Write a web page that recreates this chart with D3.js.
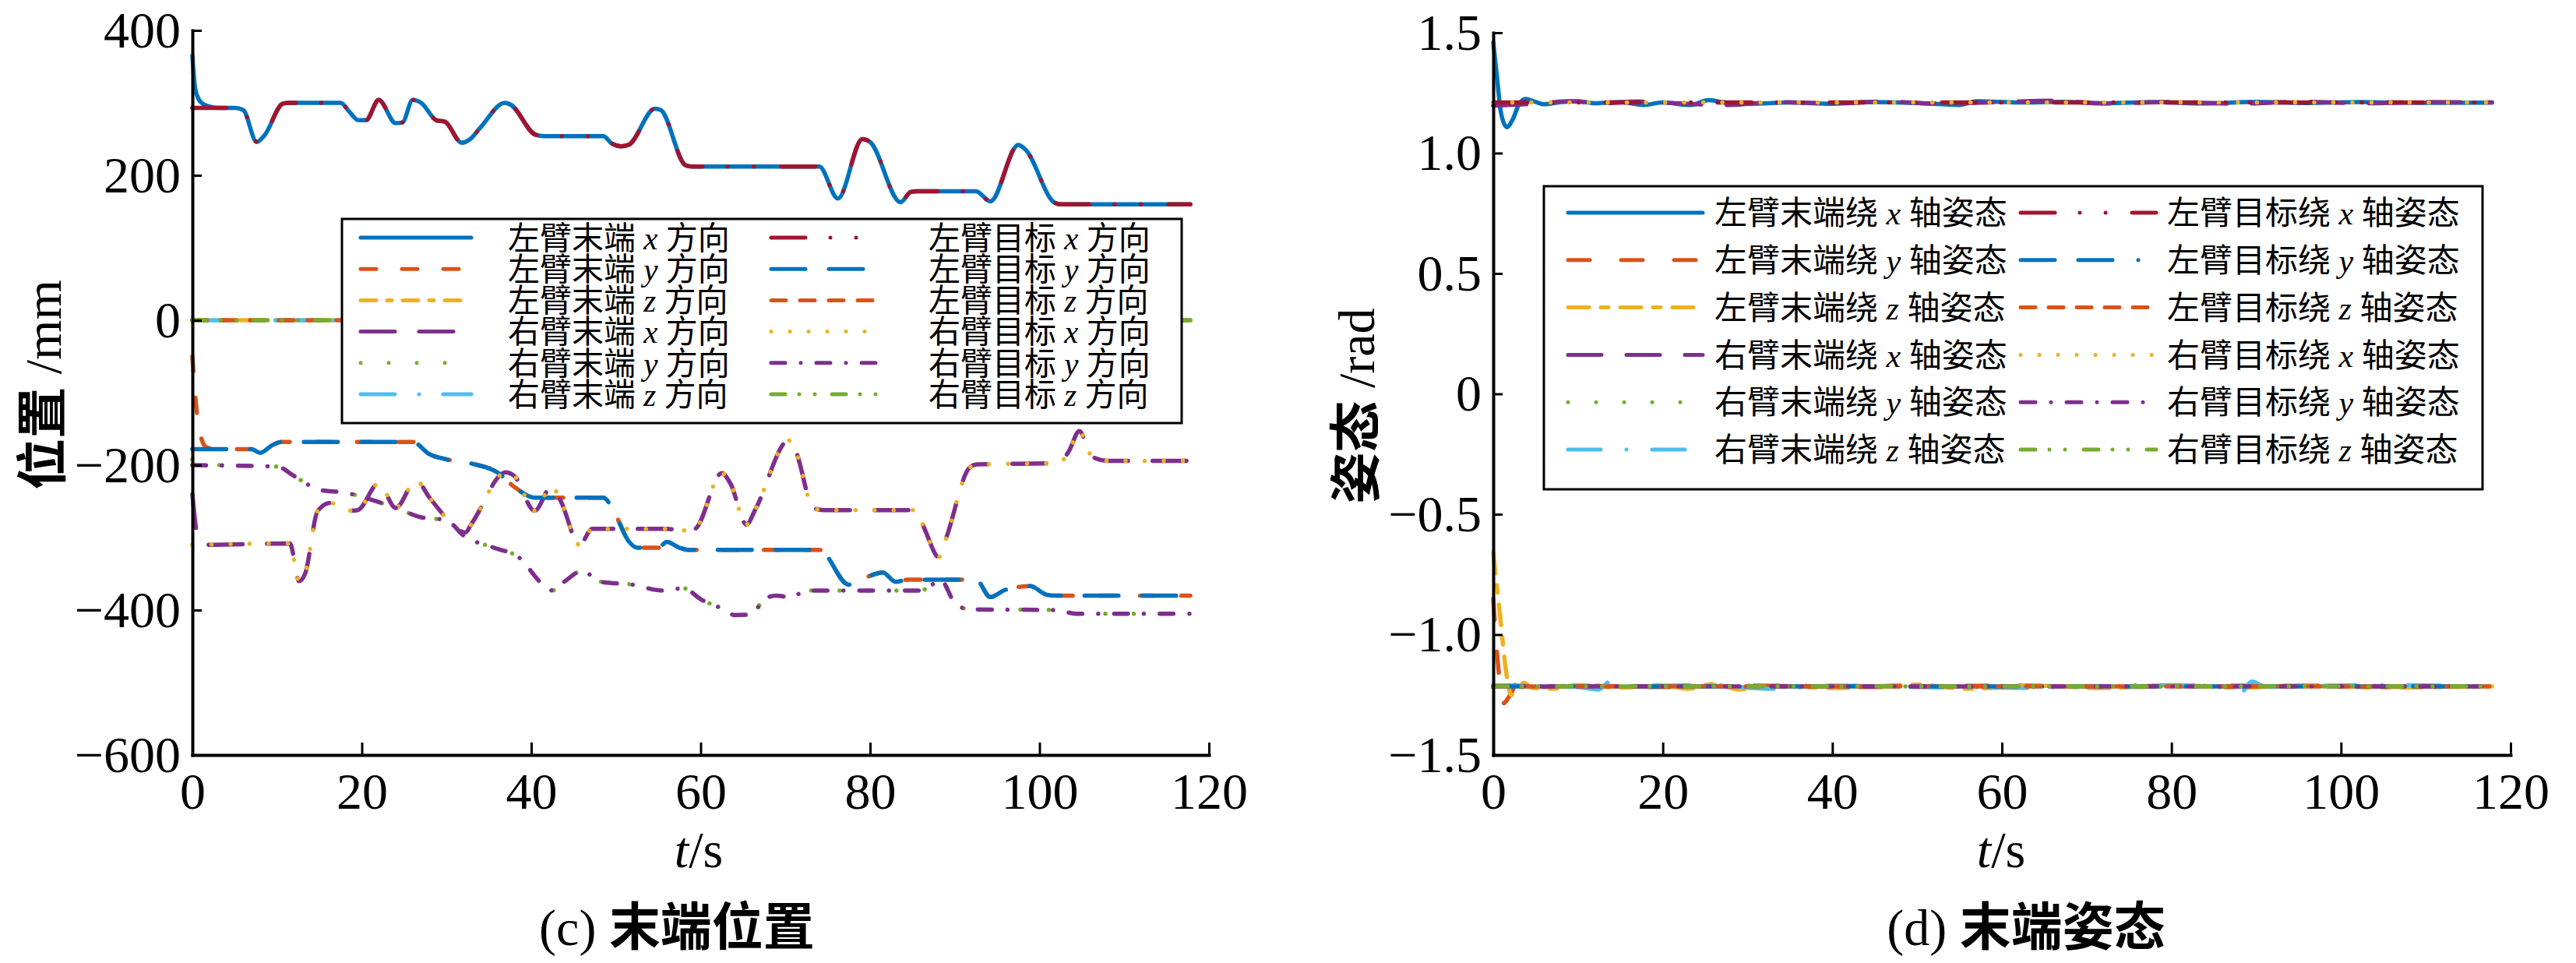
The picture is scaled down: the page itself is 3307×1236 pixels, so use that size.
<!DOCTYPE html>
<html>
<head>
<meta charset="utf-8">
<script src="https://cdn.jsdelivr.net/npm/d3@7"></script>
<style>
  body { margin: 0; background: #fff; }
  text { fill: #000; }
</style>
</head>
<body>
<div id="fig"></div>
<script>
const W = 3307, H = 1236
const SERIF = "'Liberation Serif', 'Times New Roman', Tinos, 'DejaVu Serif', serif"
const CJK = "'Noto Sans CJK SC', 'Noto Sans CJK JP', sans-serif"

// tick values
const timeTicks = [0, 20, 40, 60, 80, 100, 120]
const posTicks = [-600, -400, -200, 0, 200, 400]
const attTicks = [-1.5, -1.0, -0.5, 0, 0.5, 1.0, 1.5]

// legend texts: [prefix, axis letter, suffix]
const posLegend = [
  ["左臂末端", "x", "方向"], ["左臂末端", "y", "方向"], ["左臂末端", "z", "方向"],
  ["右臂末端", "x", "方向"], ["右臂末端", "y", "方向"], ["右臂末端", "z", "方向"],
  ["左臂目标", "x", "方向"], ["左臂目标", "y", "方向"], ["左臂目标", "z", "方向"],
  ["右臂目标", "x", "方向"], ["右臂目标", "y", "方向"], ["右臂目标", "z", "方向"]
]
const attLegend = [
  ["左臂末端绕", "x", "轴姿态"], ["左臂末端绕", "y", "轴姿态"], ["左臂末端绕", "z", "轴姿态"],
  ["右臂末端绕", "x", "轴姿态"], ["右臂末端绕", "y", "轴姿态"], ["右臂末端绕", "z", "轴姿态"],
  ["左臂目标绕", "x", "轴姿态"], ["左臂目标绕", "y", "轴姿态"], ["左臂目标绕", "z", "轴姿态"],
  ["右臂目标绕", "x", "轴姿态"], ["右臂目标绕", "y", "轴姿态"], ["右臂目标绕", "z", "轴姿态"]
]

// (c) end position, [t (s), mm]
const posLXTarget = [[0,293],[5,293],[6,290],[7.6,246],[8.5,255],[10.7,299],[11.5,300],[17.5,300],[18.5,288],
  [19.6,276],[20.5,276],[22,304],[24,272],[24.8,273],[26,304],[27,300],[28.8,276],[29.8,274],[31.8,245],
  [32.8,250],[34,266],[36.9,300],[37.5,298],[40.5,256],[41.5,254],[48.5,254],[49.5,244],[50.6,240],
  [51.5,242],[54.6,292],[55.3,290],[58.2,214],[59,212],[74,212],[76.2,168],[79.1,250],[80,246],
  [83.6,163],[84.8,177],[85.5,178],[92.5,178],[94.2,164],[97.5,242],[98.3,236],[101.8,162],[102.5,160],[117.8,160]]
const posLXStart = [[0,365],[0.3,322],[0.7,306],[1.2,299],[2,295],[3,293]]

const posLYTarget = [[0,-178],[7,-178],[8,-183],[9.5,-172],[10.5,-168],[26,-168],[28,-185],[30,-192],[33,-198],
  [36,-210],[38,-230],[40.4,-245],[48.5,-245],[50,-270],[51.5,-305],[52.5,-314],[55,-314],[56,-306],
  [57.5,-314],[58.5,-317],[74,-317],[77.5,-365],[79.5,-355],[81.5,-348],[83,-361],[84.5,-358],[92.5,-358],
  [94.2,-382],[96,-372],[98.9,-367],[100.9,-379],[102,-380],[117.8,-380]]
const posLYStart = [[0,-50],[0.5,-125],[1,-160],[1.6,-175],[2.5,-178]]

const posRXTarget = [[0,-310],[11.5,-308],[12.6,-360],[13.3,-350],[14.8,-263],[16.3,-252],[18.2,-263],
  [19.5,-262],[22,-225],[24,-259],[26.4,-221],[28,-245],[29.9,-272],[31,-285],[32.2,-293],[33,-280],
  [37,-210],[38,-215],[40.4,-263],[42.4,-229],[43.5,-250],[45.7,-310],[47.2,-288],[55.9,-288],[58,-290],
  [59.3,-288],[62.5,-211],[63.5,-225],[65.4,-282],[66.5,-260],[70.4,-166],[71.2,-180],[73.3,-259],
  [74.5,-262],[85.4,-262],[86.5,-290],[88.1,-327],[89,-300],[91.7,-204],[92.6,-199],[102.3,-197],
  [103.5,-180],[104.7,-153],[106,-185],[106.7,-191],[108,-194],[117.8,-194]]
const posRXStart = [[0,-240],[0.4,-285],[0.8,-305],[1.5,-310]]

const posRYTarget = [[0,-200],[10,-202],[12,-215],[15,-234],[18,-238],[22,-251],[24,-259],[27,-272],[30,-276],
  [32,-297],[35.6,-314],[38.5,-327],[41.4,-365],[42.5,-373],[44,-360],[46,-346],[48.2,-361],[52,-365],
  [55.4,-373],[58,-370],[60,-385],[62.7,-399],[64,-407],[66,-406],[67.5,-385],[68.9,-380],[70.4,-382],
  [72.8,-373],[86,-373],[87,-368],[88.3,-358],[90,-390],[91.7,-399],[102,-400],[104.3,-405],[117.8,-405]]
const posRYStart = [[0,-192],[1,-199]]

const posZero = [[0,0],[117.8,0]]

// (d) end attitude, [t (s), rad]
const attLXActual = [[0,1.46],[0.4,1.33],[0.9,1.17],[1.6,1.108],[2.3,1.14],[3,1.2],[3.8,1.225],[4.8,1.215],
  [6,1.203],[8,1.212],[10,1.215],[12,1.207],[15,1.212],[17.7,1.2],[20,1.21],[23.3,1.2],[25.4,1.22],
  [27,1.212],[30,1.205],[35,1.21],[40,1.205],[45,1.212],[50,1.208],[55,1.2],[57,1.215],[62,1.21],
  [67,1.213],[72,1.207],[78,1.212],[84,1.206],[90,1.213],[96,1.208],[102,1.212],[110,1.209],[117.8,1.21]]
const attLXTarget = [[0,1.21],[87.6,1.21],[88.3,1.224],[89,1.21],[117.8,1.21]]
const attRXActual = [[0,1.197],[5,1.205],[9,1.215],[13,1.207],[17,1.214],[22,1.206],[28,1.2],[33,1.212],
  [40,1.207],[46,1.214],[52,1.206],[60,1.212],[66,1.218],[72,1.206],[80,1.212],[88,1.205],[95,1.213],
  [103,1.207],[110,1.212],[117.8,1.21]]
const attRXTarget = [[0,1.21],[117.8,1.21]]

const attLYActual = [[0,-0.85],[0.5,-1.1],[1.2,-1.285],[2,-1.25],[3,-1.19],[4,-1.21],[5,-1.218],[10,-1.212],
  [20,-1.218],[30,-1.212],[45,-1.218],[60,-1.212],[75,-1.217],[90,-1.212],[105,-1.217],[117.8,-1.215]]
const attLZActual = [[0,-0.66],[0.8,-0.92],[1.5,-1.15],[2.1,-1.25],[2.8,-1.24],[3.6,-1.2],[4.5,-1.22],
  [7,-1.225],[10,-1.21],[15,-1.22],[20,-1.21],[23,-1.225],[26,-1.205],[29,-1.228],[33,-1.212],[40,-1.222],
  [50,-1.208],[56,-1.225],[64,-1.212],[72,-1.222],[80,-1.21],[88,-1.22],[96,-1.21],[105,-1.22],[117.8,-1.215]]
const attRYActual = [[0,-1.22],[30,-1.212],[60,-1.218],[90,-1.212],[117.8,-1.215]]
const attRZActual = [[0,-1.21],[10,-1.218],[12.4,-1.228],[14,-1.19],[15,-1.215],[25,-1.21],[33,-1.225],
  [40,-1.212],[50,-1.218],[64,-1.222],[65.5,-1.225],[67,-1.2],[68,-1.215],[80,-1.21],[87.5,-1.225],
  [88.2,-1.24],[89.5,-1.195],[91,-1.215],[105,-1.21],[117.8,-1.215]]
const attLowTarget = [[0,-1.215],[117.8,-1.215]]

// matlab colours
const C = {blue: "#0072BD", orange: "#D95319", yellow: "#EDB120", purple: "#7E2F8E",
           green: "#77AC30", cyan: "#4DBEEE", red: "#A2142F"}

const posSeries = [
  posLXStart.concat(posLXTarget.filter(d => d[0] > 3)),
  posLYStart.concat(posLYTarget.filter(d => d[0] > 2.5)),
  posZero,
  posRXStart.concat(posRXTarget.filter(d => d[0] > 1.5)),
  posRYStart.concat(posRYTarget.filter(d => d[0] > 1)),
  posZero,
  posLXTarget, posLYTarget, posZero, posRXTarget, posRYTarget, posZero
]
const attSeries = [
  attLXActual, attLYActual, attLZActual, attRXActual, attRYActual, attRZActual,
  attLXTarget, attLowTarget, attLowTarget, attRXTarget, attLowTarget, attLowTarget
]

// visible dash patterns (dash, gap, ...)
const posStyles = [
  {c: C.blue, d: null}, {c: C.orange, d: [25, 28]}, {c: C.yellow, d: [25, 9, 11, 9]},
  {c: C.purple, d: [49, 26]}, {c: C.green, d: [0, 31]}, {c: C.cyan, d: [49, 26, 2, 26]},
  {c: C.red, d: [49, 27, 3, 28, 3, 30]}, {c: C.blue, d: [49, 25]}, {c: C.orange, d: [24, 13]},
  {c: C.yellow, d: [0, 19]}, {c: C.purple, d: [23, 15, 3, 15]}, {c: C.green, d: [23, 13, 3, 15, 3, 17]}
]
const attStyles = [
  {c: C.blue, d: null}, {c: C.orange, d: [33, 35]}, {c: C.yellow, d: [32, 10, 15, 10]},
  {c: C.purple, d: [48, 27]}, {c: C.green, d: [0, 31]}, {c: C.cyan, d: [47, 28, 2, 28]},
  {c: C.red, d: [49, 27, 3, 28, 3, 29]}, {c: C.blue, d: [49, 25, 49, 28, 2, 28]}, {c: C.orange, d: [24, 12]},
  {c: C.yellow, d: [0, 19]}, {c: C.purple, d: [24, 15, 3, 15]}, {c: C.green, d: [24, 13, 2, 15, 2, 19]}
]

const LW = 5.5
function dashFor(d, w) {
  if (!d) return null
  // round caps grow every dash by the stroke width
  return d.map((v, i) => i % 2 === 0 ? Math.max(0.01, v - w) : v + w).join(",")
}

// append a run of text pieces, chinese pieces get the CJK face
function addPieces(t, pieces) {
  pieces.forEach(p => {
    let s = t.append("tspan").text(p.s)
    s.attr("font-family", p.cjk ? CJK : SERIF)
    if (p.it) s.attr("font-style", "italic")
    if (p.b) s.attr("font-weight", "bold")
  })
}

const svg = d3.select("#fig").append("svg")
  .attr("width", W).attr("height", H)
  .attr("viewBox", "0 0 " + W + " " + H)

function drawPanel(p) {
  let x = d3.scaleLinear().domain([0, 120]).range([p.x0, p.x1])
  let y = d3.scaleLinear().domain(p.yDomain).range([p.yBot, p.yTop])
  let g = svg.append("g")

  let line = d3.line()
    .x(d => x(d[0]))
    .y(d => y(d[1]))
    .curve(d3.curveMonotoneX)

  g.selectAll(".series")
   .data(p.series)
   .enter()
   .append("path")
   .attr("class", "series")
   .attr("d", line)
   .attr("fill", "none")
   .attr("stroke", (d, i) => p.styles[i].c)
   .attr("stroke-width", LW)
   .attr("stroke-linecap", "round")
   .attr("stroke-linejoin", "round")
   .attr("stroke-dasharray", (d, i) => dashFor(p.styles[i].d, LW))

  // axes, ticks pointing inward
  let xAxis = g.append("g")
    .attr("transform", "translate(0," + p.yBot + ")")
    .call(d3.axisBottom(x).tickValues(timeTicks).tickSize(-16).tickSizeOuter(0).tickPadding(22))
  let yAxis = g.append("g")
    .attr("transform", "translate(" + p.x0 + ",0)")
    .call(d3.axisLeft(y).tickValues(p.yTicks).tickFormat(p.fmt).tickSize(-12).tickSizeOuter(0).tickPadding(15))

  for (let a of [xAxis, yAxis]) {
    a.attr("font-family", SERIF).attr("font-size", 66)
    a.select(".domain").attr("stroke-width", 4).attr("stroke-linecap", "square")
    a.selectAll(".tick line").attr("stroke-width", 3)
    a.selectAll("text").attr("font-family", SERIF).attr("font-size", 66)
  }

  // x label
  let xl = g.append("text")
    .attr("x", p.xLabelX).attr("y", 1113)
    .attr("text-anchor", "middle")
    .attr("font-size", 66)
  addPieces(xl, [{s: "t", it: true}, {s: "/s"}])

  // y label
  let yl = g.append("text")
   .attr("transform", "translate(" + p.yLabelX + "," + p.yLabelY + ") rotate(-90)")
   .attr("text-anchor", "middle")
   .attr("dy", "0.35em")
   .attr("font-size", 66)
  addPieces(yl, [{s: p.yLabel[0], cjk: true, b: true}, {s: " " + p.yLabel[1]}])

  // caption
  let cap = g.append("text")
   .attr("x", p.capX).attr("y", 1213)
   .attr("text-anchor", "middle")
   .attr("font-size", 66)
  addPieces(cap, [{s: p.caption[0] + " "}, {s: p.caption[1], cjk: true, b: true}])

  // legend
  let L = p.legend
  let lg = g.append("g")
  lg.append("rect")
    .attr("x", L.x).attr("y", L.y).attr("width", L.w).attr("height", L.h)
    .attr("fill", "#fff").attr("stroke", "#000").attr("stroke-width", 3)

  p.labels.forEach((lab, i) => {
    let col = i < 6 ? 0 : 1
    let row = i % 6
    let cy = L.row0 + row * L.rowStep
    let s = p.styles[i]
    lg.append("line")
      .attr("x1", L.sx[col][0]).attr("x2", L.sx[col][1])
      .attr("y1", cy).attr("y2", cy)
      .attr("stroke", s.c).attr("stroke-width", 5)
      .attr("stroke-linecap", "round")
      .attr("stroke-dasharray", dashFor(s.d, 5))
    let t = lg.append("text")
      .attr("x", L.tx[col]).attr("y", cy + L.fs * 0.36)
      .attr("font-size", L.fs)
    addPieces(t, [{s: lab[0], cjk: true}, {s: " "}, {s: lab[1], it: true}, {s: " "}, {s: lab[2], cjk: true}])
  })
}

drawPanel({
  x0: 247, x1: 1552, yTop: 39, yBot: 969,
  yDomain: [-600, 400], yTicks: posTicks,
  fmt: d => d < 0 ? "\u2212" + Math.abs(d) : String(d),
  series: posSeries, styles: posStyles, labels: posLegend,
  xLabelX: 897, yLabelX: 55, yLabelY: 494, yLabel: ["位置", "/mm"],
  capX: 869, caption: ["(c)", "末端位置"],
  legend: {x: 439, y: 281, w: 1078, h: 262, row0: 305, rowStep: 40.2, fs: 41,
           sx: [[463, 605], [990, 1126]], tx: [652, 1192]}
})

drawPanel({
  x0: 1917, x1: 3223, yTop: 42, yBot: 969,
  yDomain: [-1.5, 1.5], yTicks: attTicks,
  fmt: d => d === 0 ? "0" : d3.format(".1f")(d),
  series: attSeries, styles: attStyles, labels: attLegend,
  xLabelX: 2569, yLabelX: 1741, yLabelY: 521, yLabel: ["姿态", "/rad"],
  capX: 2601, caption: ["(d)", "末端姿态"],
  legend: {x: 1982, y: 239, w: 1205, h: 389, row0: 273, rowStep: 60.8, fs: 42,
           sx: [[2013, 2186], [2594, 2768]], tx: [2201, 2782]}
})
</script>
</body>
</html>
